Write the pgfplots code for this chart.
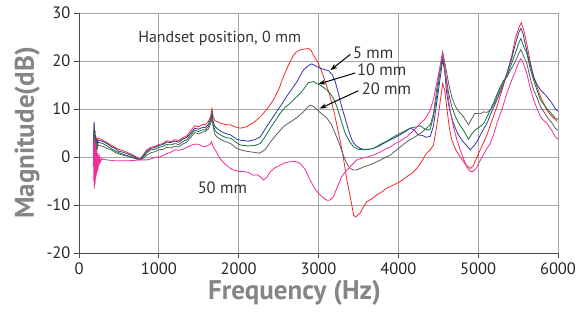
\documentclass[border=0pt]{standalone}
\usepackage{pgfplots}
\pgfplotsset{compat=1.18}
\usepackage{pgfplotstable}
\usepackage{fontspec}
\setmainfont{PT Sans}
\usetikzlibrary{arrows.meta}
\definecolor{cRed}{HTML}{F42A2A}
\definecolor{cBlue}{HTML}{2E36A6}
\definecolor{cGreen}{HTML}{117538}
\definecolor{cGray}{HTML}{5E5E5E}
\definecolor{cMag}{HTML}{EE2E9B}
\definecolor{cGrid}{HTML}{A6A6A6}
\definecolor{cLab}{HTML}{858585}

\pgfplotstableread{
f db
180 2
185 5
190 6.8
195 1
200 5.5
205 0.5
210 4.5
215 1.5
220 4
230 2.5
240 4
260 3.8
300 3.5
350 3
400 2.5
450 2
500 1.6
550 1.3
600 1.0
650 0.6
700 0.2
760 -0.5
800 0.3
850 1.5
900 2.0
950 2.2
1000 2.6
1050 2.8
1100 3.4
1150 3.2
1200 3.6
1250 3.4
1300 4.0
1350 4.4
1400 5.5
1450 6.5
1500 6.3
1550 6.8
1580 6.7
1620 7.4
1650 8.5
1665 10.1
1680 8.5
1700 7.6
1725 7.4
1780 7.0
1850 6.7
1900 6.7
1950 6.3
2020 6.0
2100 6.3
2165 7.0
2205 7.4
2270 8.4
2310 9.1
2370 10.3
2435 11.9
2500 14
2560 16.7
2620 19
2685 21.2
2730 22
2770 22.3
2830 22.5
2875 22.6
2910 22.2
2935 21.2
2990 19.8
3040 17.8
3100 15
3145 12.6
3200 9
3270 3.5
3310 0
3355 -4.8
3400 -8.5
3440 -12.1
3465 -12.5
3520 -11.7
3560 -10.5
3605 -9.3
3660 -8.8
3730 -7.9
3800 -7.2
3855 -6.5
3920 -6.0
3980 -5.5
4040 -4.9
4105 -4.1
4170 -3.4
4230 -2.4
4290 -1.0
4355 0.8
4400 1.5
4440 2.5
4480 6.3
4520 11
4555 15.3
4580 14
4605 10.5
4640 6
4670 3.5
4720 1.5
4775 0
4840 -1.5
4900 -2.4
4940 -1.8
4985 0
5040 2.0
5110 4.6
5170 7.5
5235 10.5
5300 14
5360 17.4
5420 21
5465 24.7
5510 27
5540 28.0
5570 26.5
5610 23.5
5650 20
5695 16.7
5740 14.5
5780 12.6
5820 11.2
5860 9.8
5920 8.5
5990 7.4
}\tRed

\pgfplotstableread{
f db
180 1
185 4
190 7.3
195 0.5
200 5.5
205 0
210 4.5
215 1
220 3.8
230 2.5
240 3.5
260 3.5
300 3.2
350 2.8
400 2.2
450 1.8
500 1.2
550 1.0
600 0.7
650 0.4
700 0
760 -0.5
800 0.1
850 1.2
900 1.8
950 2.0
1000 2.4
1050 2.6
1100 3.1
1150 3.0
1200 3.3
1250 3.1
1300 3.7
1350 4.1
1400 5.0
1450 6.0
1500 5.8
1550 6.2
1580 6.1
1620 6.8
1650 8.0
1665 9.2
1680 7.5
1700 6.4
1725 6.0
1780 5.3
1850 4.8
1900 4.6
1975 3.7
2020 3.5
2120 3.3
2200 3.6
2270 4.2
2350 6.3
2410 7.8
2475 9.4
2540 11
2600 12.6
2660 14
2730 15.7
2810 18.1
2870 19.0
2915 19.4
2960 19.0
3020 18.5
3080 18.2
3125 18.0
3170 17.2
3210 15.7
3250 13.2
3290 10.5
3335 8
3375 5.6
3420 3.5
3460 2.5
3520 1.8
3565 1.6
3630 1.6
3690 1.8
3770 2.4
3855 3.2
3940 3.9
4020 4.6
4090 5.3
4150 6.0
4200 5.6
4250 4.6
4300 4.5
4350 4.1
4400 4.3
4440 6.5
4480 11.2
4520 16
4555 20.2
4580 18
4605 13.3
4640 10
4690 7.0
4740 5
4795 3.5
4850 2.5
4900 1.5
4940 2.2
4985 3.2
5040 5
5110 7.0
5170 9.5
5235 11.9
5300 14.5
5360 17.4
5420 20.5
5465 23.5
5510 26
5535 26.8
5560 25.8
5590 23.5
5640 20
5695 16.7
5740 15
5780 14.0
5820 13.3
5860 12.6
5920 11.3
5965 10.1
6000 9.5
}\tBlue

\pgfplotstableread{
f db
180 0.5
185 3.5
190 6
195 0
200 4.5
205 -0.5
210 3.8
215 0.8
220 3.2
230 2
240 3
260 3
300 2.8
350 2.3
400 1.8
450 1.3
500 0.9
550 0.6
600 0.3
650 0.1
700 -0.3
760 -0.6
800 -0.1
850 0.9
900 1.5
950 1.6
1000 2.0
1050 2.2
1100 2.6
1150 2.5
1200 2.8
1250 2.6
1300 3.2
1350 3.6
1400 4.6
1450 5.6
1500 5.3
1550 5.7
1580 5.6
1620 6.3
1650 7.5
1665 8.7
1680 6.8
1700 5.6
1725 5.1
1780 4.5
1850 4.0
1900 3.9
1975 3.0
2020 2.5
2120 2.3
2200 2.4
2270 2.8
2330 4.2
2395 6.0
2460 7.6
2520 9.1
2580 10.3
2645 11.2
2710 12.3
2770 13.2
2830 14.5
2875 15.5
2935 15.7
2980 15.3
3020 15.0
3080 14.3
3145 13.3
3190 12.1
3230 10.5
3280 7.8
3335 4.9
3390 3.2
3440 2.1
3500 1.6
3565 1.5
3630 1.6
3690 1.8
3770 2.6
3855 3.3
3940 4.2
4020 4.9
4090 5.5
4150 6.0
4230 6.3
4280 6.5
4315 6.0
4360 5.6
4400 5.8
4440 8.5
4480 12.6
4520 17.5
4555 20.9
4590 17.5
4630 13.3
4670 10.5
4715 8.4
4765 6.8
4815 5.6
4880 3.7
4920 4.8
4960 5.6
5020 6.3
5070 7.0
5130 9
5190 11.2
5260 14
5320 16
5360 16.7
5420 19.5
5465 21.6
5510 23.8
5535 24.7
5570 23
5610 21.6
5650 18.5
5695 16.0
5740 13.8
5780 11.9
5820 11
5860 10.1
5920 9
5965 8.1
6000 7.8
}\tGreen

\pgfplotstableread{
f db
180 0
185 3
190 5
195 -0.5
200 4
205 -1
210 3.2
215 0.5
220 2.8
230 1.8
240 2.5
260 2.4
300 2.2
350 1.8
400 1.5
450 1.0
500 0.6
550 0.4
600 0.2
650 -0.1
700 -0.3
760 -0.6
800 -0.3
850 0.4
900 0.9
950 1.1
1000 1.5
1050 1.6
1100 2.0
1150 1.9
1200 2.2
1250 2.1
1300 2.7
1350 3.1
1400 4.1
1450 5.1
1500 4.8
1550 5.2
1580 5.3
1620 5.8
1650 7
1665 8.1
1680 6.3
1700 4.8
1725 4.2
1780 3.6
1850 3.1
1900 2.8
1975 1.8
2020 1.5
2100 1.2
2180 1.0
2260 0.8
2330 1.5
2415 3.5
2490 5
2560 6.3
2620 7
2685 7.7
2750 8.5
2810 9.4
2860 10.3
2895 10.8
2940 10.5
2980 9.9
3040 9
3105 8.1
3160 6.8
3210 4.9
3260 2.8
3310 0.4
3350 -1.2
3395 -2.4
3440 -2.7
3480 -2.7
3560 -2.1
3630 -1.7
3690 -1.3
3780 -0.6
3850 0
3900 0.4
3980 1.5
4040 2.3
4105 3.2
4190 4.0
4275 4.9
4340 5.8
4400 6.7
4440 9
4480 14.0
4520 18.5
4555 21.9
4590 19
4630 15.3
4670 12.5
4715 10.5
4765 9.3
4815 8.4
4880 6.7
4920 8
4960 9.1
5020 9
5070 9.4
5110 9.3
5150 9.8
5200 11
5235 12.6
5300 14.8
5360 16.7
5420 18.5
5465 19.9
5510 21.6
5535 22.4
5570 21
5610 19.5
5650 16.5
5695 14.0
5740 12.2
5780 10.5
5820 9.5
5860 8.4
5920 7.2
5965 6.0
6000 5.6
}\tGray

\pgfplotstableread{
f db
180 -2
183 3
186 -5
189 4.2
192 -6.7
195 3.5
198 -6
201 3
204 -5.5
207 2.5
210 -4.5
213 2
216 -4
219 1.5
222 -3.5
226 1.2
230 -3
234 0.8
238 -2.5
242 0.5
246 -2
250 0.2
255 -1.5
260 0
270 -1
285 -0.3
300 -0.5
350 -0.6
400 -0.7
450 -0.8
500 -0.8
600 -0.8
700 -0.7
760 -0.6
850 -0.6
900 -0.4
975 0
1000 -0.1
1050 0.3
1100 0.7
1150 1.0
1205 1.5
1250 1.4
1300 1.6
1350 2.0
1400 2.4
1430 2.6
1480 2.7
1520 2.5
1555 2.1
1600 2.3
1640 2.6
1660 3.2
1680 2.2
1720 1.1
1765 -0.3
1830 -1.5
1900 -2.4
1935 -2.7
2000 -3.0
2060 -3.0
2120 -3.2
2185 -3.8
2230 -3.7
2270 -4.1
2310 -4.8
2350 -4.3
2395 -3.1
2450 -2.3
2520 -1.7
2580 -1.2
2645 -1.0
2700 -0.9
2770 -1.3
2830 -2.5
2895 -4.8
2950 -6.5
3000 -7.6
3060 -8.5
3105 -9.0
3140 -9.0
3185 -8.3
3230 -6.5
3290 -4.1
3330 -3.2
3375 -2.4
3420 -1.6
3480 -0.6
3560 -0.2
3630 0.1
3690 0.4
3770 1.0
3830 1.6
3900 2.1
3960 2.8
4020 3.3
4105 4.2
4190 5.5
4275 7.0
4340 8.0
4400 9.8
4440 12
4480 15.3
4520 18.5
4555 21.6
4580 19
4605 15.3
4640 10.5
4690 6.3
4735 3.5
4775 1.5
4820 -0.5
4860 -2.2
4900 -3.0
4940 -3.0
4980 -2.2
5010 -1.2
5050 0
5100 1.5
5150 2.8
5190 4.5
5235 7.0
5300 10
5360 13.3
5420 16
5465 17.8
5510 19.8
5535 20.5
5560 19.8
5610 17.4
5650 14.5
5695 11.9
5740 10
5780 8.4
5820 7.6
5860 7.0
5920 5.6
5965 4.2
6000 3.7
}\tMag

\begin{document}
\begin{tikzpicture}
\useasboundingbox (-79pt,-71pt) rectangle (497pt,253pt);
\begin{axis}[
  scale only axis,
  width=479pt, height=240pt,
  xmin=0, xmax=6000, ymin=-20, ymax=30,
  xtick={0,1000,...,6000},
  ytick={-20,-10,...,30},
  axis x line=bottom, axis y line=left,
  axis line style={-, draw=black!70, line width=0.8pt},
  tick align=outside,
  major tick length=5pt,
  tick style={draw=black!70, line width=0.8pt},
  grid=major,
  major grid style={draw=cGrid, line width=0.8pt},
  /pgf/number format/1000 sep={},
  /pgf/number format/assume math mode=true,
  tick label style={font=\fontsize{16.5}{18}\selectfont, text=black!85},
  xticklabel style={yshift=-1pt},
  xlabel={Frequency (Hz)},
  ylabel={Magnitude(dB)},
  xlabel style={at={(axis description cs:0.45,-0.165)}, anchor=center, font=\fontsize{27}{30}\bfseries, text=cLab},
  ylabel style={at={(axis description cs:-0.108,0.5)}, anchor=center, rotate=0, font=\fontsize{27}{30}\bfseries, text=cLab},
  every axis plot/.append style={line width=0.8pt},
]
\addplot[cRed] table[x=f,y=db] {\tRed};
\addplot[cBlue] table[x=f,y=db] {\tBlue};
\addplot[cGreen] table[x=f,y=db] {\tGreen};
\addplot[cGray] table[x=f,y=db] {\tGray};
\addplot[cMag] table[x=f,y=db] {\tMag};

\node[anchor=west, font=\fontsize{16}{18}\selectfont, text=black!80, inner sep=0pt] at (axis cs:740,24.7) {Handset position, 0 mm};
\node[anchor=west, font=\fontsize{16.5}{18}\selectfont, text=black!80, inner sep=0pt] at (axis cs:3430,21.8) {5 mm};
\node[anchor=west, font=\fontsize{16.5}{18}\selectfont, text=black!80, inner sep=0pt] at (axis cs:3480,18.1) {10 mm};
\node[anchor=west, font=\fontsize{16.5}{18}\selectfont, text=black!80, inner sep=0pt] at (axis cs:3540,14.3) {20 mm};
\node[anchor=west, font=\fontsize{16.5}{18}\selectfont, text=black!80, inner sep=0pt] at (axis cs:1485,-6.3) {50 mm};

\draw[-{Stealth[length=7pt,width=5pt]}, line width=1pt, black] (axis cs:3400,21.4) -- (axis cs:3150,18.1);
\draw[-{Stealth[length=7pt,width=5pt]}, line width=1pt, black] (axis cs:3460,17.5) -- (axis cs:3000,15.2);
\draw[-{Stealth[length=7pt,width=5pt]}, line width=1pt, black] (axis cs:3500,13.8) -- (axis cs:3015,10.1);
\end{axis}
\end{tikzpicture}
\end{document}
